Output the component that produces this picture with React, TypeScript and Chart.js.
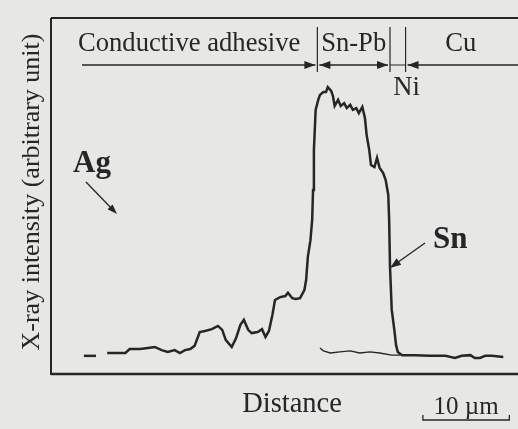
import React, { useEffect, useRef } from "react";
import { Chart, registerables } from "chart.js";

Chart.register(...registerables);

// Distance (µm) and X-ray intensity (arbitrary unit, 0-100)
const dashDistance = [3.8, 5.2];
const dashIntensity = [5.1, 5.1];

const profileDistance = [
  6.5, 8.6, 9.1, 10.3, 11.2, 12.0, 12.8, 13.5, 14.3, 14.9, 15.5, 16.1, 16.6, 17.2,
  17.8, 18.6, 19.3, 19.8, 20.2, 20.9, 21.4, 21.9, 22.3, 22.8, 23.2, 23.9, 24.4,
  24.8, 25.2, 25.6, 25.9, 26.5, 27.1, 27.4, 27.9, 28.3, 28.8, 29.3, 29.5, 29.7,
  30.0, 30.2, 30.3, 30.4, 30.6, 30.9, 31.1, 31.5, 31.8, 32.0, 32.4, 32.6, 32.8,
  33.2, 33.5, 33.9, 34.2, 34.6, 34.9, 35.3, 35.6, 36.0, 36.3, 36.5, 36.8, 37.0,
  37.4, 37.7, 38.0, 38.4, 38.7, 39.0, 39.1, 39.2, 39.4, 39.7, 39.9, 40.1, 40.6,
  42.1, 43.8, 45.6, 46.7, 47.5, 48.5, 49.0, 49.6, 50.2, 51.0, 52.3,
];
const profileIntensity = [
  5.9, 5.9, 7.0, 7.0, 7.3, 7.6, 6.7, 6.2, 6.7, 5.9, 6.7, 7.0, 7.9, 11.8,
  12.1, 12.6, 13.5, 12.4, 9.6, 7.6, 10.1, 13.8, 15.2, 12.4, 11.5, 11.8, 12.6,
  10.4, 12.1, 16.6, 20.8, 21.6, 21.9, 22.8, 21.3, 21.1, 21.3, 23.6, 26.4, 32.9,
  37.6, 43.3, 51.7, 62.9, 74.2, 77.0, 78.4, 79.2, 79.2, 80.6, 79.5, 78.1, 75.3,
  77.0, 75.3, 76.1, 74.7, 75.6, 74.2, 74.7, 73.3, 75.0, 71.9, 67.1, 62.9, 58.7,
  58.1, 60.7, 57.9, 56.5, 54.5, 50.3, 43.3, 30.1, 18.0, 12.4, 8.1, 6.2, 5.3,
  5.3, 5.1, 5.1, 4.5, 5.1, 5.3, 4.5, 4.5, 5.1, 5.1, 4.8,
];

const baseDistance = [31.1, 31.5, 32.3, 33.4, 34.6, 35.7, 36.9, 38.0, 39.4, 40.4];
const baseIntensity = [7.3, 6.5, 5.9, 6.2, 6.5, 5.9, 6.2, 5.9, 5.3, 5.3];

// Region boundaries (µm) and labels
const boundaries = [30.8, 39.2, 41.0];
const regionLabels = ["Conductive adhesive", "Sn-Pb", "Ni", "Cu"];
const elementLabels = ["Ag", "Sn"];
const scaleBarStart = 43.0;
const scaleBarLength = 10;
const scaleBarLabel = "10 µm";
const xTitle = "Distance";
const yTitle = "X-ray intensity (arbitrary unit)";

const INK = "#262626";
const SERIF = '"Liberation Serif", "DejaVu Serif", serif';

function arrowHead(ctx: CanvasRenderingContext2D, x1: number, y1: number, x2: number, y2: number, len: number, half: number) {
  const a = Math.atan2(y2 - y1, x2 - x1);
  ctx.beginPath();
  ctx.moveTo(x2, y2);
  ctx.lineTo(x2 - len * Math.cos(a) + half * Math.sin(a), y2 - len * Math.sin(a) - half * Math.cos(a));
  ctx.lineTo(x2 - len * Math.cos(a) - half * Math.sin(a), y2 - len * Math.sin(a) + half * Math.cos(a));
  ctx.closePath();
  ctx.fill();
}

function line(ctx: CanvasRenderingContext2D, x1: number, y1: number, x2: number, y2: number, w: number) {
  ctx.lineWidth = w;
  ctx.beginPath();
  ctx.moveTo(x1, y1);
  ctx.lineTo(x2, y2);
  ctx.stroke();
}

const decorPlugin = {
  id: "decor",
  beforeDraw(chart: any) {
    const ctx = chart.ctx;
    ctx.save();
    ctx.fillStyle = "#e7e7e5";
    ctx.fillRect(0, 0, chart.width, chart.height);
    ctx.restore();
  },
  afterDraw(chart: any) {
    const ctx: CanvasRenderingContext2D = chart.ctx;
    const { left, top, right, bottom } = chart.chartArea;
    const xs = chart.scales.x;
    ctx.save();
    ctx.strokeStyle = INK;
    ctx.fillStyle = INK;
    // frame (left, top, bottom)
    line(ctx, left, top, left, bottom + 1, 2);
    line(ctx, left, top, right + 5, top, 2);
    line(ctx, left, bottom, right + 5, bottom, 2.5);

    // header
    const hy = 65;
    const [b1, b2, b3] = boundaries.map((b) => xs.getPixelForValue(b));
    line(ctx, b1, 27, b1, 72, 1.2);
    line(ctx, b2, 27, b2, 72, 1.2);
    line(ctx, b3, 27, b3, 72, 1.2);
    line(ctx, 82, hy, b1 - 2, hy, 1.5);
    arrowHead(ctx, 82, hy, b1 - 2, hy, 11, 4);
    line(ctx, b1 + 2, hy, b2 - 2, hy, 1.5);
    arrowHead(ctx, b2, hy, b1 + 2, hy, 11, 4);
    arrowHead(ctx, b1, hy, b2 - 2, hy, 11, 4);
    line(ctx, b2, hy, b3, hy, 1);
    line(ctx, right + 5, hy, b3 + 2, hy, 1.5);
    arrowHead(ctx, right, hy, b3 + 2, hy, 11, 4);

    ctx.font = `26.6px ${SERIF}`;
    ctx.textBaseline = "alphabetic";
    ctx.textAlign = "left";
    ctx.fillText(regionLabels[0], 78, 51);
    ctx.textAlign = "center";
    ctx.fillText(regionLabels[1], (b1 + b2) / 2 + 0, 51);
    ctx.fillText(regionLabels[2], b3 + 1, 95);
    ctx.fillText(regionLabels[3], (b3 + right) / 2 - 1, 51);

    // element labels and arrows
    ctx.font = `bold 31px ${SERIF}`;
    ctx.textAlign = "left";
    ctx.fillText(elementLabels[0], 73, 172);
    line(ctx, 86, 182, 114, 211, 1.3);
    arrowHead(ctx, 86, 182, 117, 214, 10, 3.5);
    ctx.fillText(elementLabels[1], 433, 248);
    line(ctx, 425, 243, 394, 265, 1.3);
    arrowHead(ctx, 425, 243, 390, 268, 11, 4);

    // axis titles
    ctx.font = `28.5px ${SERIF}`;
    ctx.textAlign = "center";
    ctx.fillText(xTitle, 292, 412);
    ctx.save();
    ctx.translate(39, 192);
    ctx.rotate(-Math.PI / 2);
    ctx.font = `26px ${SERIF}`;
    ctx.fillText(yTitle, 0, 0);
    ctx.restore();

    // scale bar
    const s1 = xs.getPixelForValue(scaleBarStart);
    const s2 = xs.getPixelForValue(scaleBarStart + scaleBarLength);
    line(ctx, s1, 420, s2, 420, 1.3);
    line(ctx, s1, 415, s1, 420.6, 1.3);
    line(ctx, s2, 415, s2, 420.6, 1.3);
    ctx.font = `25px ${SERIF}`;
    ctx.fillText(scaleBarLabel, (s1 + s2) / 2, 414);
    ctx.restore();
  },
};

export default function App() {
  const ref = useRef<HTMLCanvasElement>(null);
  useEffect(() => {
    const canvas = ref.current;
    if (!canvas) return;
    const toPts = (xs: number[], ys: number[]) => xs.map((x, i) => ({ x, y: ys[i] }));
    const chart = new Chart(canvas, {
      type: "line",
      data: {
        datasets: [
          { data: toPts(dashDistance, dashIntensity), borderColor: INK, borderWidth: 2.5, pointRadius: 0, tension: 0 },
          { data: toPts(profileDistance, profileIntensity), borderColor: INK, borderWidth: 2.5, pointRadius: 0, tension: 0 },
          { data: toPts(baseDistance, baseIntensity), borderColor: INK, borderWidth: 1.4, pointRadius: 0, tension: 0 },
        ],
      },
      options: {
        responsive: false,
        animation: false,
        devicePixelRatio: 1,
        layout: { padding: { left: 51, top: 18, right: 0, bottom: 55 } },
        plugins: { legend: { display: false }, tooltip: { enabled: false } },
        scales: {
          x: { type: "linear", min: 0, max: 54, display: false },
          y: { type: "linear", min: 0, max: 100, display: false },
        },
      },
      plugins: [decorPlugin],
    });
    return () => chart.destroy();
  }, []);
  return (
    <div style={{ position: "fixed", left: 0, top: 0, width: 518, height: 429, overflow: "hidden", background: "#e7e7e5" }}>
      <canvas ref={ref} width={518} height={429} style={{ display: "block", width: 518, height: 429 }} />
    </div>
  );
}
